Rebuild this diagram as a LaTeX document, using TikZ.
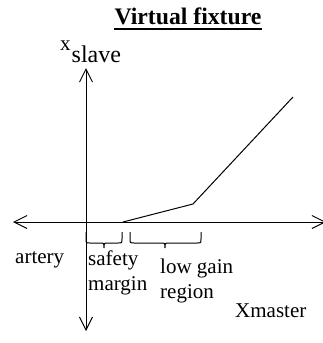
\documentclass[tikz,border=0pt]{standalone}
\usepackage{fontspec}
\setmainfont{Liberation Serif}
\usetikzlibrary{arrows.meta}
\begin{document}
\begin{tikzpicture}[x=1pt,y=-1pt,
  lbl/.style={inner sep=0pt,anchor=base west,font=\fontsize{21}{24}\selectfont},
  axis/.style={line width=1pt,-{Straight Barb[length=13pt,width=13pt,line width=1pt]}},
  bracestyle/.style={line width=1pt}]
\useasboundingbox (0,0) rectangle (323,343);
% title
\node[inner sep=0pt,anchor=base,font=\fontsize{23.7}{26}\selectfont\bfseries] (title) at (188,24) {Virtual fixture};
\draw[line width=2pt] ([yshift=-5pt]title.base west) -- ([yshift=-5pt]title.base east);
% axis labels
\node[lbl] (xs) at (60,50) {x};
\node[lbl,font=\fontsize{24}{26}\selectfont] (slave) at (71.5,62) {slave};
% axes
\coordinate (O) at (86,222);
\coordinate (top) at (86,68);
\coordinate (bottom) at (86,331);
\coordinate (left) at (13,222);
\coordinate (right) at (326,222);
\draw[axis] (O) -- (top);
\draw[axis] (O) -- (bottom);
\draw[axis] (O) -- (left);
\draw[axis] (O) -- (right);
% fixture curve
\coordinate (k0) at (123,222);
\coordinate (k1) at (193,204);
\coordinate (k2) at (293,97);
\draw[line width=1pt] (k0) -- (k1) -- (k2);
% braces
\draw[bracestyle] (86,232) -- (86,239) .. controls (86,243) .. (90,243) -- (100,243)
  .. controls (104,243) .. (104,248) .. controls (104,243) .. (108,243) -- (118,243)
  .. controls (122,243) .. (122,239) -- (122,232);
\draw[bracestyle] (130,232) -- (130,239) .. controls (130,243) .. (134,243) -- (161,243)
  .. controls (165,243) .. (165,248) .. controls (165,243) .. (169,243) -- (197,243)
  .. controls (201,243) .. (201,239) -- (201,232);
% labels
\node[lbl] (artery) at (15,263) {artery};
\node[lbl] (safety) at (88,265) {safety};
\node[lbl] (margin) at (88,290) {margin};
\node[lbl] (lowgain) at (160,273) {low gain};
\node[lbl] (region) at (160,298) {region};
\node[lbl] (xmaster) at (235,317) {Xmaster};
\end{tikzpicture}
\end{document}
